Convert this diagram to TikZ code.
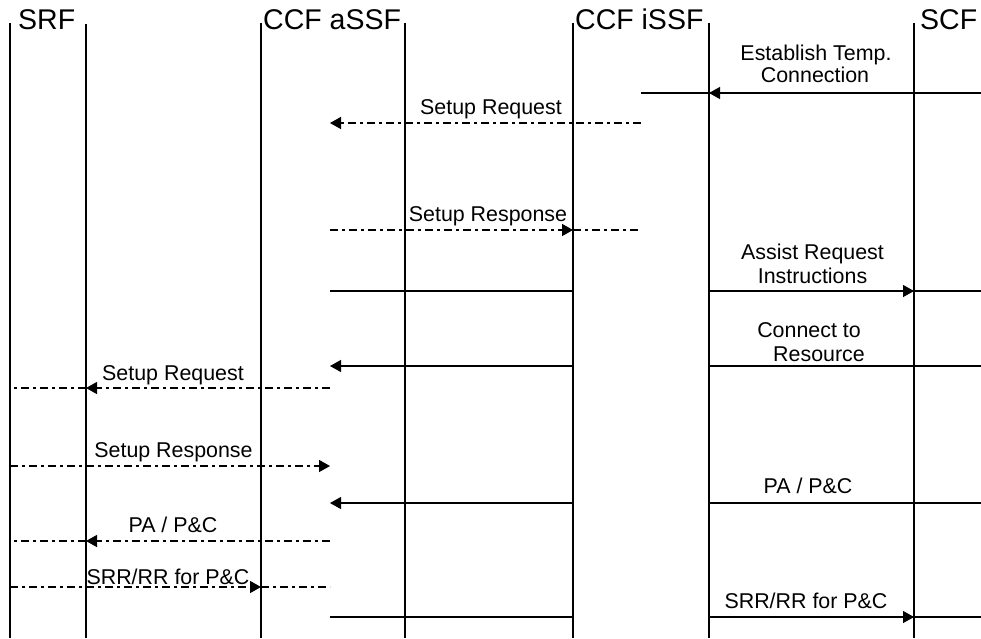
\documentclass[tikz,border=0pt]{standalone}
\usepackage{fontspec}
\setmainfont{Liberation Sans}
\usetikzlibrary{arrows.meta}
\begin{document}
\begin{tikzpicture}[x=1pt,y=-1pt,
  life/.style={line width=1.8pt},
  msg/.style={line width=1.2pt},
  dd/.style={msg, line width=1.4pt, dash pattern=on 8pt off 4pt on 3pt off 4pt},
  tip/.style={-{Triangle[length=11pt,width=12pt]}},
  hdr/.style={font=\fontsize{28.5}{30}\selectfont, anchor=base west, inner sep=0pt},
  lbl/.style={font=\fontsize{21.4}{23}\selectfont, anchor=base, inner sep=0pt}]
\useasboundingbox (0,0) rectangle (981,638);
% lifeline tops
\coordinate (x1) at (10,23);
\coordinate (x2) at (86,24);
\coordinate (x3) at (261,23);
\coordinate (x4) at (405,23);
\coordinate (x5) at (573,23);
\coordinate (x6) at (709,23);
\coordinate (x7) at (914,23);
\coordinate (bot) at (0,638);
% free ends of message lines
\coordinate (mA) at (330,0);
\coordinate (mB) at (641,0);
\coordinate (re) at (981,0);
% rows
\coordinate (r1) at (0,93);
\coordinate (r2) at (0,123);
\coordinate (r3) at (0,230);
\coordinate (r4) at (0,291);
\coordinate (r5) at (0,366);
\coordinate (r6) at (0,388);
\coordinate (r7) at (0,466);
\coordinate (r8) at (0,503);
\coordinate (r9) at (0,541);
\coordinate (r10) at (0,587);
\coordinate (r11) at (0,617);

% headers
\node[hdr] (hSRF) at (18,29) {SRF};
\node[hdr] (hA) at (263,29) {CCF aSSF};
\node[hdr] (hI) at (575,29) {CCF iSSF};
\node[hdr] (hSCF) at (920,29) {SCF};

% lifelines
\foreach \l in {x1,x2,x3,x4,x5,x6,x7}
  \draw[life] (\l) -- (\l |- bot);

% row 1
\draw[msg] (mB |- r1) -- (re |- r1);
\draw[msg,tip] (re |- r1) -- (x6 |- r1);
\node[lbl] (l1a) at (816,60) {Establish Temp.};
\node[lbl] (l1b) at (815,82) {Connection};
% row 2
\draw[dd,tip] (mB |- r2) -- (mA |- r2);
\node[lbl] (l2) at (491,114) {Setup Request};
% row 3
\draw[dd,tip] (mA |- r3) -- (x5 |- r3);
\draw[dd] (x5 |- r3) -- (mB |- r3);
\node[lbl] (l3) at (488,221) {Setup Response};
% row 4
\draw[msg] (mA |- r4) -- (x5 |- r4);
\draw[msg] (x6 |- r4) -- (re |- r4);
\draw[msg,tip] (x6 |- r4) -- (x7 |- r4);
\node[lbl] (l4a) at (812.5,259) {Assist Request};
\node[lbl] (l4b) at (812.5,283) {Instructions};
% row 5
\draw[msg,tip] (x5 |- r5) -- (mA |- r5);
\draw[msg] (x6 |- r5) -- (re |- r5);
\node[lbl] (l5a) at (809,337) {Connect to};
\node[lbl] (l5b) at (819,361) {Resource};
% row 6
\draw[dd,tip] (mA |- r6) -- (x2 |- r6);
\draw[dd] (x2 |- r6) -- (x1 |- r6);
\node[lbl] (l6) at (173,380) {Setup Request};
% row 7
\draw[dd,tip] (x1 |- r7) -- (mA |- r7);
\node[lbl] (l7) at (173.5,457) {Setup Response};
% row 8
\draw[msg,tip] (x5 |- r8) -- (mA |- r8);
\draw[msg] (x6 |- r8) -- (re |- r8);
\node[lbl] (l8) at (808,493) {PA / P\&C};
% row 9
\draw[dd,tip] (mA |- r9) -- (x2 |- r9);
\draw[dd] (x2 |- r9) -- (x1 |- r9);
\node[lbl] (l9) at (173,532) {PA / P\&C};
% row 10
\draw[dd,tip] (x1 |- r10) -- (x3 |- r10);
\draw[dd] (x3 |- r10) -- (mA |- r10);
\node[lbl] (l10) at (168,584) {SRR/RR for P\&C};
% row 11
\draw[msg] (mA |- r11) -- (x5 |- r11);
\draw[msg] (x6 |- r11) -- (re |- r11);
\draw[msg,tip] (x6 |- r11) -- (x7 |- r11);
\node[lbl] (l11) at (806,608) {SRR/RR for P\&C};
\end{tikzpicture}
\end{document}
